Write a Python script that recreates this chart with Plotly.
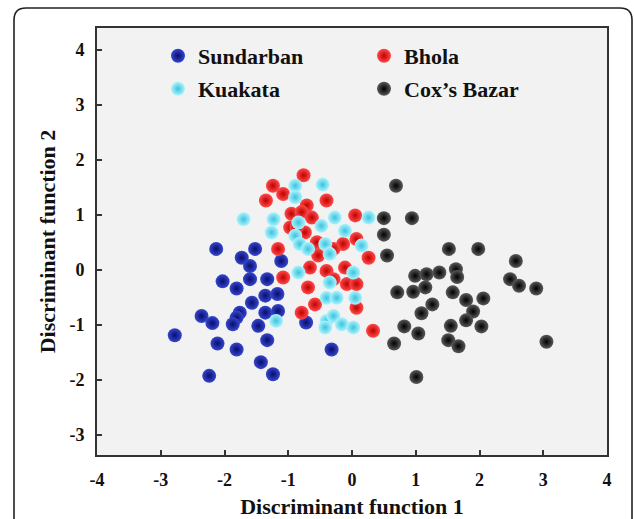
import plotly.graph_objects as go

# ---------------- data ----------------
sund_x = [-2.13, -1.52, -1.73, -1.60, -2.03, -1.81, -1.60, -1.33, -1.11, -1.57, -1.36, -1.17, -1.76, -1.81,
          -1.87, -2.36, -2.19, -1.36, -1.16, -1.47, -2.78, -2.11, -1.81, -1.33, -1.43, -1.24, -2.24, -0.72, -0.32]
sund_y = [0.38, 0.38, 0.22, 0.07, -0.21, -0.34, -0.17, -0.17, 0.16, -0.60, -0.47, -0.44, -0.78, -0.87,
          -0.99, -0.84, -0.97, -0.78, -0.75, -1.02, -1.19, -1.34, -1.45, -1.28, -1.68, -1.90, -1.93, -0.96, -1.45]

bhola_x = [-0.76, -1.24, -1.08, -1.35, -0.40, -0.95, -0.71, -0.79, -0.63, 0.05, -0.97, -0.74, -0.55, -0.14,
           -0.29, 0.07, -1.16, 0.26, -0.53, -0.66, -0.40, -0.11, -1.08, -0.69, -0.29, -0.08, 0.07, -0.58,
           0.07, -0.79, 0.33, -0.87]
bhola_y = [1.72, 1.53, 1.38, 1.26, 1.26, 1.02, 1.17, 1.05, 0.95, 0.99, 0.77, 0.68, 0.50, 0.47,
           0.38, 0.56, 0.38, 0.22, 0.26, 0.04, -0.02, 0.04, -0.14, -0.32, -0.17, -0.26, -0.26, -0.63,
           -0.69, -0.78, -1.11, 0.77]

kuak_x = [-1.70, -0.89, -0.46, -0.89, -1.23, -1.26, -0.84, -0.27, 0.26, -0.48, -0.11, -0.89, -0.82, -0.69,
          -0.42, 0.15, -0.35, -0.84, 0.02, -0.35, -0.40, -0.24, 0.05, -1.19, -0.40, -0.29, -0.42, -0.16, 0.02]
kuak_y = [0.92, 1.53, 1.55, 1.32, 0.92, 0.68, 0.86, 0.95, 0.95, 0.80, 0.71, 0.62, 0.47, 0.38,
          0.47, 0.44, 0.29, -0.05, -0.05, -0.23, -0.51, -0.51, -0.51, -0.93, -0.93, -0.84, -1.05, -0.99, -1.05]

cox_x = [0.69, 0.50, 0.94, 0.50, 0.55, 1.52, 1.98, 2.57, 0.99, 1.17, 1.37, 1.63, 1.65, 2.48, 2.62, 2.89,
         0.71, 0.96, 1.15, 1.58, 1.79, 2.06, 1.26, 1.09, 1.90, 1.79, 0.82, 1.04, 1.55, 2.03, 1.51, 1.67,
         0.66, 3.05, 1.01]
cox_y = [1.53, 0.94, 0.94, 0.64, 0.26, 0.38, 0.38, 0.16, -0.11, -0.08, -0.05, 0.01, -0.13, -0.17, -0.29, -0.34,
         -0.41, -0.40, -0.32, -0.41, -0.55, -0.52, -0.63, -0.79, -0.76, -0.92, -1.03, -1.16, -1.02, -1.03, -1.28, -1.39,
         -1.34, -1.31, -1.95]

names = ["Sundarban", "Bhola", "Kuakata", "Cox\u2019s Bazar"]
xticks = [-4, -3, -2, -1, 0, 1, 2, 3, 4]
yticks = [-3, -2, -1, 0, 1, 2, 3, 4]

# ---------------- styling ----------------
W, H = 634, 519
ML, MR, MT, MB = 97, 27, 28, 64
PW, PH = W - ML - MR, H - MT - MB
FONT = "Liberation Serif"

def pfx(px):
    return (px - ML) / PW

def pfy(py):
    return (H - MB - py) / PH

styles = [
    dict(color="#3447cc", grad="#0a0c70", legend="legend"),
    dict(color="#ff4a4a", grad="#c00000", legend="legend"),
    dict(color="#aef4ff", grad="#3cc3dc", legend="legend2"),
    dict(color="#5a5a5a", grad="#000000", legend="legend2"),
]
series = [(sund_x, sund_y), (bhola_x, bhola_y), (kuak_x, kuak_y), (cox_x, cox_y)]

fig = go.Figure()
for name, (xs, ys), st in zip(names, series, styles):
    fig.add_trace(go.Scatter(
        x=xs, y=ys, mode="markers", name=name, legend=st["legend"],
        marker=dict(size=14, color=st["color"],
                    gradient=dict(type="radial", color=st["grad"]),
                    line=dict(width=0)),
    ))

axis_common = dict(showline=True, mirror=True, linecolor="#333333", linewidth=1.6,
                   ticks="inside", ticklen=5, tickwidth=1.5, tickcolor="#333333",
                   showgrid=False, zeroline=False,
                   tickfont=dict(family=FONT, size=18, color="#111111", weight="bold"))

legend_common = dict(orientation="h", x=pfx(158), xanchor="left", yanchor="top",
                     entrywidth=161, bgcolor="rgba(0,0,0,0)", itemsizing="trace",
                     font=dict(family=FONT, size=22, color="#111111", weight="bold"))

fig.update_layout(
    width=W, height=H,
    margin=dict(l=ML, r=MR, t=MT, b=MB, autoexpand=False),
    paper_bgcolor="white", plot_bgcolor="#f2f2f2",
    xaxis=dict(range=[-4, 4], tickvals=xticks, ticktext=[str(v) for v in xticks],
               ticklabelstandoff=8,
               title=dict(text="Discriminant function 1", standoff=9,
                          font=dict(family=FONT, size=22, color="#111111", weight="bold")),
               **axis_common),
    yaxis=dict(range=[-3.37, 4.4], tickvals=yticks, ticktext=[str(v) for v in yticks],
               ticklabelstandoff=7,
               title=dict(text="Discriminant function 2", standoff=8,
                          font=dict(family=FONT, size=22, color="#111111", weight="bold")),
               **axis_common),
    legend=dict(y=pfy(35), **legend_common),
    legend2=dict(y=pfy(68), **legend_common),
    showlegend=True,
)

# outer rounded frame (decorative)
x0, y0, x1, y1, r = 14, 8, 632, 540, 12
path = (f"M {pfx(x0)},{pfy(y1)} L {pfx(x0)},{pfy(y0 + r)} "
        f"Q {pfx(x0)},{pfy(y0)} {pfx(x0 + r)},{pfy(y0)} "
        f"L {pfx(x1 - r)},{pfy(y0)} Q {pfx(x1)},{pfy(y0)} {pfx(x1)},{pfy(y0 + r)} "
        f"L {pfx(x1)},{pfy(y1)}")
fig.add_shape(type="path", xref="paper", yref="paper", path=path,
              line=dict(color="#222222", width=1.6), layer="below")

fig.write_html("out.html")
